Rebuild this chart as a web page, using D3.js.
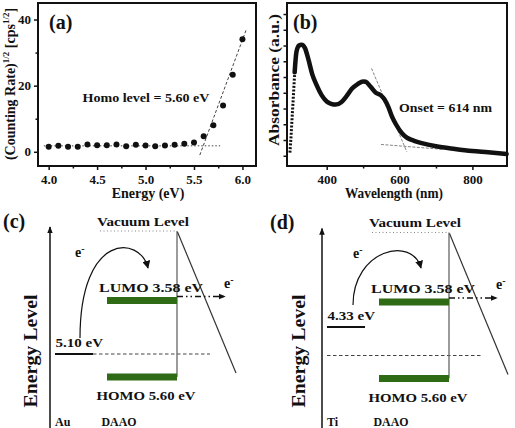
<!DOCTYPE html>
<html><head><meta charset="utf-8">
<script src="https://cdn.jsdelivr.net/npm/d3@7"></script>
<style>
body{margin:0;background:#fff}
svg{display:block}
text{font-family:"Liberation Serif","Times New Roman",serif;font-weight:bold;fill:#111}
</style>
</head><body>
<svg id="chart" width="515" height="428"></svg>
<script>
// ---------- Panel (a): UPS onset ----------
const energyEV   = [4.0,4.1,4.2,4.3,4.4,4.5,4.6,4.7,4.8,4.9,5.0,5.1,5.2,5.3,5.4,5.5,5.6,5.7,5.8,5.9,6.0];
const countRate  = [1.5,1.8,1.5,1.5,2.2,2.0,2.0,2.2,1.7,2.1,1.9,1.7,1.9,2.1,2.4,2.8,4.7,8.0,14.0,23.3,34.0];
const aXTicks    = [4.0,4.5,5.0,5.5,6.0];
const aXMinor    = [4.25,4.75,5.25,5.75];
const aYTicks    = [0,20,40];
const aYMinor    = [10,30];
const aBaseFit   = [[3.95,1.8],[5.77,1.8]];
const aRiseFit   = [[5.56,-1.0],[6.04,37.0]];

// ---------- Panel (b): absorbance ----------
const wlRise     = [299,300.5,302,303.5,305,306.5,308,309.5,311,312.5];
const absRise    = [0.2,0.7,1.2,1.8,2.4,3.0,3.6,4.2,4.8,5.3];
const wavelength = [312,317,324,331,340,350,360,372,386,400,412,425,440,455,469,485,500,507,520,535,548,558,570,579,590,606,620,640,661,700,752,800,843,894];
const absorbance = [5.3,6.6,7.0,7.05,6.85,6.1,5.2,4.5,3.85,3.45,3.3,3.25,3.4,3.8,4.25,4.55,4.72,4.7,4.4,4.0,3.85,3.6,3.05,2.5,2.0,1.45,1.15,0.95,0.8,0.6,0.43,0.3,0.22,0.11];
const bXTicks    = [400,600,800];
const bXMinor    = [500,700];
const bYTicks    = [0,1,2,3,4,5,6,7,8,9];
const bTangent   = [[523,5.55],[620,0.25]];
const bBaseline  = [[549,0.72],[716,0.41]];

// ---------- Panels (c),(d): energy diagrams ----------
const panelLetters = ["(c)","(d)"];
const metalNames   = ["Au","Ti"];
const metalLevels  = [5.10,4.33];
const refLevel     = 5.10;
const vacuumLevel  = 0;
const lumoLevel    = 3.58;
const homoLevel    = 5.60;

const svg = d3.select("#chart");
const green = "#2f6a14";

function styleAxis(g, fs){
  g.select(".domain").remove();
  g.selectAll(".tick line").attr("stroke","#111").attr("stroke-width",1.5);
  g.selectAll(".tick text").attr("font-size",fs).attr("font-family","Liberation Serif").attr("font-weight","bold").attr("fill","#111");
}

// ===== Panel (a) =====
{
  const L=38,R=256,T=3,B=166;
  const x = d3.scaleLinear().domain([3.89,6.14]).range([L,R]);
  const y = d3.scaleLinear().domain([-4.3,45]).range([B,T]);
  const g = svg.append("g");
  g.append("g").attr("transform",`translate(0,${B})`)
    .call(d3.axisBottom(x).tickValues(aXTicks).tickSize(4).tickPadding(5).tickFormat(d3.format(".1f")))
    .call(a=>styleAxis(a,13));
  g.append("g").attr("transform",`translate(0,${B})`)
    .call(d3.axisBottom(x).tickValues(aXMinor).tickSize(2.5).tickFormat(""))
    .call(a=>styleAxis(a,13));
  g.append("g").attr("transform",`translate(${L},0)`)
    .call(d3.axisLeft(y).tickValues(aYTicks).tickSize(4).tickPadding(3))
    .call(a=>styleAxis(a,13));
  g.append("g").attr("transform",`translate(${L},0)`)
    .call(d3.axisLeft(y).tickValues(aYMinor).tickSize(2.5).tickFormat(""))
    .call(a=>styleAxis(a,13));
  const line = d3.line().x(d=>x(d[0])).y(d=>y(d[1]));
  g.append("path").attr("d",line(aBaseFit)).attr("fill","none").attr("stroke","#444").attr("stroke-width",1).attr("stroke-dasharray","1.5,2");
  g.append("path").attr("d",line(aRiseFit)).attr("fill","none").attr("stroke","#444").attr("stroke-width",1).attr("stroke-dasharray","3,2");
  g.selectAll("circle.pt").data(energyEV).join("circle").attr("class","pt")
    .attr("cx",d=>x(d)).attr("cy",(d,i)=>y(countRate[i])).attr("r",3).attr("fill","#111");
  g.append("rect").attr("x",L).attr("y",T).attr("width",R-L).attr("height",B-T)
    .attr("fill","none").attr("stroke","#111").attr("stroke-width",2);
  g.append("text").attr("x",49).attr("y",28.5).attr("font-size",20).text("(a)");
  g.append("text").attr("x",82.5).attr("y",102).attr("font-size",12).attr("textLength",127).attr("lengthAdjust","spacingAndGlyphs").text("Homo level = 5.60 eV");
  g.append("text").attr("x",148).attr("y",198).attr("text-anchor","middle").attr("font-size",14).text("Energy (eV)");
  const yl = g.append("text").attr("transform","translate(15,84) rotate(-90)").attr("text-anchor","middle").attr("font-size",14);
  yl.append("tspan").text("(Counting Rate)");
  yl.append("tspan").attr("dy",-6).attr("font-size",9).text("1/2");
  yl.append("tspan").attr("dy",6).attr("font-size",14).text(" [cps");
  yl.append("tspan").attr("dy",-6).attr("font-size",9).text("1/2");
  yl.append("tspan").attr("dy",6).attr("font-size",14).text("]");
}

// ===== Panel (b) =====
{
  const L=287,R=507,T=3,B=166;
  const x = d3.scaleLinear().domain([291,895]).range([L,R]);
  const y = d3.scaleLinear().domain([-0.65,9.7]).range([B,T]);
  const g = svg.append("g");
  g.append("g").attr("transform",`translate(0,${B})`)
    .call(d3.axisBottom(x).tickValues(bXTicks).tickSize(4).tickPadding(5))
    .call(a=>styleAxis(a,13));
  g.append("g").attr("transform",`translate(0,${B})`)
    .call(d3.axisBottom(x).tickValues(bXMinor).tickSize(2.5).tickFormat(""))
    .call(a=>styleAxis(a,13));
  g.append("g").attr("transform",`translate(${L},0)`)
    .call(d3.axisLeft(y).tickValues(bYTicks).tickSize(3.5).tickFormat(""))
    .call(a=>styleAxis(a,13));
  const line = d3.line().x(d=>x(d[0])).y(d=>y(d[1]));
  g.append("path").attr("d",line(bTangent)).attr("fill","none").attr("stroke","#777").attr("stroke-width",0.9).attr("stroke-dasharray","3,1.5");
  g.append("path").attr("d",line(bBaseline)).attr("fill","none").attr("stroke","#777").attr("stroke-width",0.9).attr("stroke-dasharray","3,1.5");
  const cl = d3.line().x((d,i)=>x(d)).curve(d3.curveMonotoneX);
  g.append("path").attr("d",cl.y((d,i)=>y(absRise[i]))(wlRise)).attr("fill","none").attr("stroke","#111").attr("stroke-width",3).attr("stroke-dasharray","2,1.6");
  g.append("path").attr("d",cl.y((d,i)=>y(absorbance[i]))(wavelength)).attr("fill","none").attr("stroke","#111").attr("stroke-width",4.5).attr("stroke-linejoin","round").attr("stroke-linecap","round");
  g.append("rect").attr("x",L).attr("y",T).attr("width",R-L).attr("height",B-T)
    .attr("fill","none").attr("stroke","#111").attr("stroke-width",2);
  g.append("text").attr("x",293).attr("y",28.5).attr("font-size",20).text("(b)");
  g.append("text").attr("x",399).attr("y",112).attr("font-size",12).attr("textLength",93).attr("lengthAdjust","spacingAndGlyphs").text("Onset = 614 nm");
  g.append("text").attr("x",394).attr("y",198).attr("text-anchor","middle").attr("font-size",14).attr("textLength",98).attr("lengthAdjust","spacingAndGlyphs").text("Wavelength (nm)");
  g.append("text").attr("transform","translate(279,80) rotate(-90)").attr("text-anchor","middle").attr("font-size",15).attr("textLength",132).attr("lengthAdjust","spacingAndGlyphs").text("Absorbance (a.u.)");
}

// ===== Panels (c),(d) =====
const defs = svg.append("defs");
defs.append("marker").attr("id","ah").attr("viewBox","0 0 10 10").attr("refX",9).attr("refY",5)
  .attr("markerWidth",8).attr("markerHeight",8).attr("markerUnits","userSpaceOnUse").attr("orient","auto")
  .append("path").attr("d","M0,0 L10,5 L0,10 Z").attr("fill","#111");
defs.append("marker").attr("id","ahs").attr("viewBox","0 0 10 10").attr("refX",9).attr("refY",5)
  .attr("markerWidth",7).attr("markerHeight",7).attr("markerUnits","userSpaceOnUse").attr("orient","auto")
  .append("path").attr("d","M0,1 L10,5 L0,9 Z").attr("fill","#111");

const panelX   = [50,322];
const panelDY  = [0,1.5];
const letterX  = [3,270];
const elabX    = [75,353];
const curveDefs = [
  ()=>`M80,338 C80,232 140,235 148,268`,
  ()=>`M353,305 C353,250 412,235 421,268`
];
const energyLabelX = [37,305];

panelLetters.forEach((letter,k)=>{
  const px = panelX[k], dy = panelDY[k];
  const y = d3.scaleLinear().domain([0,3.58,4.33,5.10,5.60]).range([231+dy,300.5+dy,327,354+dy,377+dy]);
  const g = svg.append("g");
  // energy axis
  g.append("line").attr("x1",px).attr("x2",px).attr("y1",440).attr("y2",227+dy)
    .attr("stroke","#111").attr("stroke-width",1.5).attr("marker-end","url(#ahs)");
  g.append("text").attr("transform",`translate(${energyLabelX[k]},351) rotate(-90)`).attr("text-anchor","middle")
    .attr("font-size",19).attr("textLength",113).attr("lengthAdjust","spacingAndGlyphs").text("Energy Level");
  g.append("text").attr("x",letterX[k]).attr("y",227.5+dy).attr("font-size",20).text(letter);
  // vacuum
  g.append("line").attr("x1",px+50).attr("x2",px+127).attr("y1",y(vacuumLevel)).attr("y2",y(vacuumLevel))
    .attr("stroke","#888").attr("stroke-width",1).attr("stroke-dasharray","1,2.5");
  g.append("text").attr("x",px+93).attr("y",225.5+dy).attr("text-anchor","middle").attr("font-size",13)
    .attr("textLength",92).attr("lengthAdjust","spacingAndGlyphs").text("Vacuum Level");
  // reference dashed line
  g.append("line").attr("x1",k===0?px+43:px+5).attr("x2",px+160).attr("y1",y(refLevel)).attr("y2",y(refLevel))
    .attr("stroke","#444").attr("stroke-width",1).attr("stroke-dasharray","3.5,2.5");
  // metal level
  g.append("line").attr("x1",px+5).attr("x2",px+43).attr("y1",y(metalLevels[k])).attr("y2",y(metalLevels[k]))
    .attr("stroke","#111").attr("stroke-width",2);
  g.append("text").attr("x",px+5.5).attr("y",y(metalLevels[k])-7.5).attr("font-size",12.5)
    .attr("textLength",47.5).attr("lengthAdjust","spacingAndGlyphs").text(metalLevels[k].toFixed(2)+" eV");
  // barrier lines
  g.append("line").attr("x1",px+127).attr("x2",px+127).attr("y1",y(vacuumLevel)).attr("y2",y(homoLevel))
    .attr("stroke","#666").attr("stroke-width",1.3);
  g.append("line").attr("x1",px+127.5).attr("x2",px+186).attr("y1",y(vacuumLevel)+1).attr("y2",y(homoLevel)-4)
    .attr("stroke","#333").attr("stroke-width",1.2);
  // LUMO / HOMO bars
  [lumoLevel,homoLevel].forEach(v=>{
    g.append("rect").attr("x",px+57).attr("width",70).attr("y",y(v)-3.5).attr("height",7).attr("fill",green);
  });
  g.append("text").attr("x",px+101).attr("y",y(lumoLevel)-9).attr("text-anchor","middle").attr("font-size",13)
    .attr("textLength",104).attr("lengthAdjust","spacingAndGlyphs").text("LUMO 3.58 eV");
  g.append("text").attr("x",px+96).attr("y",y(homoLevel)+23).attr("text-anchor","middle").attr("font-size",13)
    .attr("textLength",99).attr("lengthAdjust","spacingAndGlyphs").text("HOMO 5.60 eV");
  // electron escape arrow
  g.append("line").attr("x1",px+127).attr("x2",px+175).attr("y1",y(lumoLevel)-4).attr("y2",y(lumoLevel)-4)
    .attr("stroke","#111").attr("stroke-width",1.5).attr("stroke-dasharray","6,3,1.5,3,1.5,3").attr("marker-end","url(#ahs)");
  const er = g.append("text").attr("x",px+174).attr("y",y(lumoLevel)-13).attr("font-size",14);
  er.append("tspan").text("e");
  er.append("tspan").attr("dy",-5).attr("font-size",10).text("-");
  // curved injection arrow
  g.append("path").attr("d",curveDefs[k]()).attr("fill","none").attr("stroke","#111").attr("stroke-width",1.2).attr("marker-end","url(#ah)");
  const el = g.append("text").attr("x",elabX[k]).attr("y",256.5+dy).attr("font-size",14);
  el.append("tspan").text("e");
  el.append("tspan").attr("dy",-5).attr("font-size",10).text("-");
  // materials
  g.append("text").attr("x",px+5).attr("y",426).attr("font-size",12).text(metalNames[k]);
  g.append("text").attr("x",px+69).attr("y",426).attr("text-anchor","middle").attr("font-size",12)
    .attr("textLength",35).attr("lengthAdjust","spacingAndGlyphs").text("DAAO");
});
</script>
</body></html>
